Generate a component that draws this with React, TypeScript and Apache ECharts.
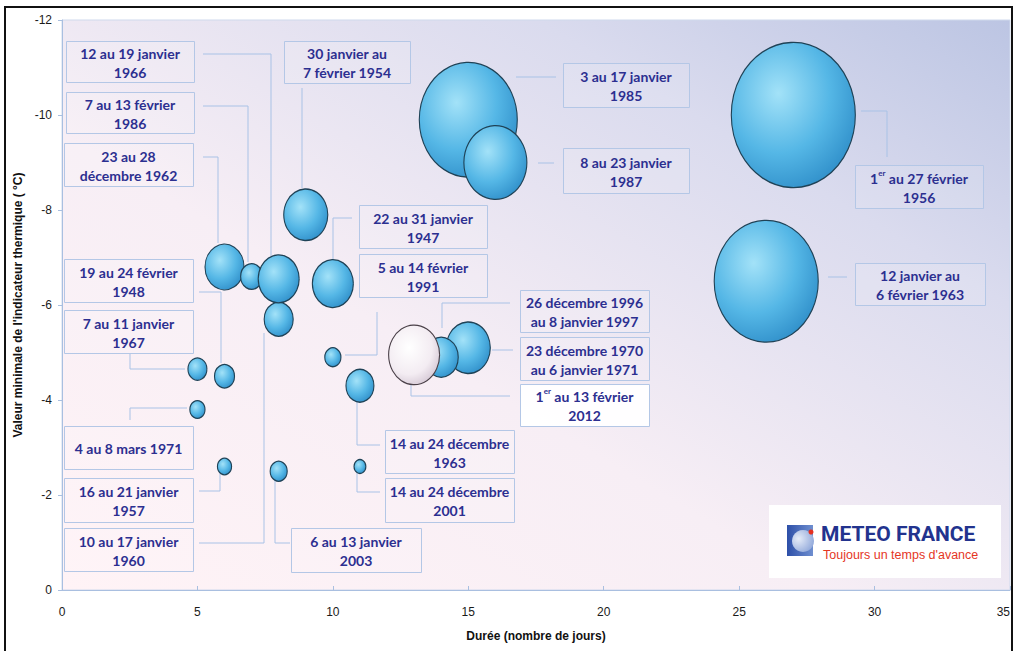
import React, { useEffect, useRef } from "react";
import * as echarts from "echarts";

// ---- data ----
const xTicks = [0, 5, 10, 15, 20, 25, 30, 35];
const yTicks = [-12, -10, -8, -6, -4, -2, 0];

// blue bubbles: duration (days), minimum thermal indicator (°C), bubble magnitude
const blueDuree = [15, 16, 27, 26, 9, 10, 8, 6, 7, 8, 5, 6, 5, 6, 8, 10, 11, 11, 15, 14];
const blueValeur = [-9.9, -9.0, -10.0, -6.5, -7.9, -6.45, -5.7, -6.8, -6.6, -6.55, -4.65, -4.5, -3.8, -2.6, -2.5, -4.9, -4.3, -2.6, -5.1, -4.9];
const blueAmpleur = [96.0, 39.7, 153.8, 108.2, 19.4, 16.8, 8.4, 15.2, 4.8, 16.8, 3.6, 4.0, 2.3, 2.0, 2.9, 2.6, 7.8, 1.4, 19.4, 11.6];

// highlighted episode (février 2012)
const hiDuree = [13];
const hiValeur = [-4.95];
const hiAmpleur = [26.0];

// annotation texts
const annTexts = [
  "12 au 19 janvier\n1966",
  "7 au 13 février\n1986",
  "23 au 28\ndécembre 1962",
  "19 au 24 février\n1948",
  "7 au 11 janvier\n1967",
  "4 au 8 mars 1971",
  "16 au 21 janvier\n1957",
  "10 au 17 janvier\n1960",
  "6 au 13 janvier\n2003",
  "30 janvier au\n7 février 1954",
  "22 au 31 janvier\n1947",
  "5 au 14 février\n1991",
  "3 au 17 janvier\n1985",
  "8 au 23 janvier\n1987",
  "1{sup|er} au 27 février\n1956",
  "12 janvier au\n6 février 1963",
  "26 décembre 1996\nau 8 janvier 1997",
  "23 décembre 1970\nau 6 janvier 1971",
  "1{sup|er} au 13 février\n2012",
  "14 au 24 décembre\n1963",
  "14 au 24 décembre\n2001",
];

// annotation layout (box x, y, w, h in px) and leader lines (px)
const annBoxes: number[][] = [
  [66, 41, 128, 41],
  [66, 92, 128, 41],
  [64, 143, 129, 43],
  [64, 259, 129, 43],
  [64, 310, 129, 43],
  [64, 426, 129, 43],
  [64, 478, 129, 44],
  [64, 528, 129, 43],
  [291, 528, 130, 44],
  [284, 41, 126, 42],
  [359, 205, 128, 43],
  [359, 254, 128, 43],
  [563, 63, 126, 44],
  [563, 148, 126, 45],
  [855, 165, 128, 43],
  [855, 263, 130, 42],
  [520, 290, 129, 42],
  [520, 337, 129, 43],
  [520, 384, 129, 42],
  [385, 430, 129, 43],
  [385, 478, 129, 44],
];
const leaders: number[][][] = [
  [[203, 54], [271, 54], [271, 256]],
  [[203, 106], [248, 106], [248, 262]],
  [[203, 157], [218, 157], [218, 243]],
  [[199, 292], [221, 292], [221, 363]],
  [[130, 353], [130, 369], [185, 369]],
  [[130, 420], [130, 408], [187, 408]],
  [[199, 491], [220, 491], [220, 473]],
  [[199, 543], [264, 543], [264, 333]],
  [[290, 543], [275, 543], [275, 480]],
  [[302, 88], [302, 188]],
  [[352, 218], [333, 218], [333, 259]],
  [[377, 312], [377, 355], [345, 355]],
  [[516, 77], [556, 77]],
  [[538, 163], [554, 163]],
  [[861, 111], [887, 111], [887, 157]],
  [[828, 277], [847, 277]],
  [[510, 303], [442, 303], [442, 328]],
  [[492, 350], [513, 350]],
  [[510, 396], [411, 396], [411, 385]],
  [[380, 445], [357, 445], [357, 400]],
  [[380, 492], [357, 492], [357, 473]],
];

const ASPECT = 1.17;

export default function App() {
  const ref = useRef<HTMLDivElement>(null);

  useEffect(() => {
    if (!ref.current) return;
    const chart = echarts.init(ref.current, null, { renderer: "svg" });

    const blueFill = new echarts.graphic.RadialGradient(0.38, 0.35, 0.75, [
      { offset: 0, color: "#a3e2f8" },
      { offset: 0.55, color: "#55b7e6" },
      { offset: 1, color: "#2b8ac6" },
    ]);
    const whiteFill = new echarts.graphic.RadialGradient(0.4, 0.38, 0.75, [
      { offset: 0, color: "#ffffff" },
      { offset: 0.6, color: "#f3ecf2" },
      { offset: 1, color: "#cbbccb" },
    ]);

    const sizeFrom = (arr: number[]) => (_v: any, p: any) => {
      const d = 10 * Math.sqrt(arr[p.dataIndex]);
      return [d, d * ASPECT];
    };

    const boxColor = "#b4c7e6";
    const textColor = "#2c2f90";
    const graphics: any[] = [];

    leaders.forEach((pts) => {
      graphics.push({
        type: "polyline",
        z: 1,
        shape: { points: pts },
        style: { stroke: "#a9c2e6", lineWidth: 1, fill: null },
        silent: true,
      });
    });

    annBoxes.forEach((b, i) => {
      const isHi = i === 18;
      graphics.push({
        type: "rect",
        z: 1,
        shape: { x: b[0] + 0.5, y: b[1] + 0.5, width: b[2], height: b[3] },
        style: {
          fill: isHi ? "rgba(255,255,255,0.95)" : "rgba(255,255,255,0.12)",
          stroke: boxColor,
          lineWidth: 1,
        },
        silent: true,
      });
      graphics.push({
        type: "text",
        z: 3,
        x: b[0] + b[2] / 2,
        y: b[1] + b[3] / 2 + 1,
        style: {
          text: annTexts[i],
          font: "bold 14px Lato",
          fill: textColor,
          align: "center",
          verticalAlign: "middle",
          lineHeight: 19,
          rich: {
            sup: {
              font: "bold 8px Lato",
              fill: textColor,
              verticalAlign: "top",
              lineHeight: 19,
              padding: [0, 0, 8, 0],
            },
          },
        },
        silent: true,
      });
    });

    // outer frame
    graphics.push({
      type: "polyline",
      z: 10,
      shape: { points: [[5, 651], [5, 7], [1012, 7], [1012, 651]] },
      style: { stroke: "#111", lineWidth: 2, fill: null },
      silent: true,
    });

    // logo
    graphics.push({
      type: "group",
      z: 4,
      children: [
        {
          type: "rect",
          shape: { x: 769, y: 505, width: 232, height: 73 },
          style: { fill: "#ffffff" },
        },
        {
          type: "rect",
          shape: { x: 787, y: 525, width: 26, height: 31 },
          style: {
            fill: new echarts.graphic.LinearGradient(0, 0, 1, 0, [
              { offset: 0, color: "#2d4fa8" },
              { offset: 1, color: "#6f8fd0" },
            ]),
          },
        },
        {
          type: "circle",
          shape: { cx: 803, cy: 541, r: 11 },
          style: {
            fill: new echarts.graphic.RadialGradient(0.3, 0.4, 0.8, [
              { offset: 0, color: "#e6ecf8" },
              { offset: 1, color: "#8aa3d8" },
            ]),
          },
        },
        {
          type: "circle",
          shape: { cx: 811, cy: 532, r: 2.5 },
          style: { fill: "#e5301f" },
        },
        {
          type: "text",
          x: 821,
          y: 534,
          style: {
            text: "METEO FRANCE",
            font: "bold 21px Roboto",
            fill: "#22338e",
            verticalAlign: "middle",
            align: "left",
          },
        },
        {
          type: "text",
          x: 823,
          y: 555,
          style: {
            text: "Toujours un temps d'avance",
            font: "12.5px 'Liberation Sans'",
            fill: "#e5361f",
            verticalAlign: "middle",
            align: "left",
          },
        },
      ],
    });

    const axisLineColor = "#a9bfe0";

    chart.setOption({
      animation: false,
      backgroundColor: "#ffffff",
      grid: {
        left: 62,
        right: 4,
        top: 20,
        bottom: 61,
        outerBoundsMode: "none",
        containLabel: false,
        show: true,
        borderColor: "#cfd9ec",
        borderWidth: 1,
        backgroundColor: new echarts.graphic.LinearGradient(0, 1, 1, 0, [
          { offset: 0, color: "#fff3f6" },
          { offset: 0.4, color: "#f7eef5" },
          { offset: 0.75, color: "#dadbee" },
          { offset: 1, color: "#bcc5e3" },
        ]),
      },
      xAxis: {
        type: "value",
        min: xTicks[0],
        max: xTicks[xTicks.length - 1],
        interval: xTicks[1] - xTicks[0],
        name: "Durée (nombre de jours)",
        nameLocation: "middle",
        nameGap: 40,
        nameTextStyle: { fontFamily: "'Liberation Sans'", fontWeight: "bold", fontSize: 12, color: "#111" },
        axisLine: { show: true, lineStyle: { color: axisLineColor, width: 1 } },
        axisTick: { show: true, inside: true, length: 4, lineStyle: { color: axisLineColor } },
        splitLine: { show: false },
        axisLabel: {
          color: "#1a1a1a",
          fontSize: 12,
          fontFamily: "'Liberation Sans'",
          margin: 16,
          alignMaxLabel: "right",
        },
      },
      yAxis: {
        type: "value",
        inverse: true,
        min: yTicks[0],
        max: yTicks[yTicks.length - 1],
        interval: yTicks[1] - yTicks[0],
        name: "Valeur minimale de l'indicateur thermique ( °C)",
        nameLocation: "middle",
        nameGap: 34,
        nameTextStyle: { fontFamily: "'Liberation Sans'", fontWeight: "bold", fontSize: 12, color: "#111" },
        axisLine: { show: true, lineStyle: { color: axisLineColor, width: 1 } },
        axisTick: { show: true, inside: false, length: 4, lineStyle: { color: axisLineColor } },
        splitLine: { show: false },
        axisLabel: { color: "#1a1a1a", fontSize: 12, fontFamily: "'Liberation Sans'", margin: 10 },
      },
      series: [
        {
          type: "scatter",
          z: 5,
          data: blueDuree.map((d, i) => [d, blueValeur[i]]),
          symbol: "circle",
          symbolSize: sizeFrom(blueAmpleur),
          itemStyle: { color: blueFill, borderColor: "#1f4256", borderWidth: 1.2, opacity: 1 },
          emphasis: { disabled: true },
        },
        {
          type: "scatter",
          z: 6,
          data: hiDuree.map((d, i) => [d, hiValeur[i]]),
          symbol: "circle",
          symbolSize: sizeFrom(hiAmpleur),
          itemStyle: { color: whiteFill, borderColor: "#4a4048", borderWidth: 1.2, opacity: 1 },
          emphasis: { disabled: true },
        },
      ],
      graphic: graphics,
    });

    return () => chart.dispose();
  }, []);

  return (
    <div
      ref={ref}
      style={{ position: "absolute", left: 0, top: 0, width: 1014, height: 651 }}
    />
  );
}
